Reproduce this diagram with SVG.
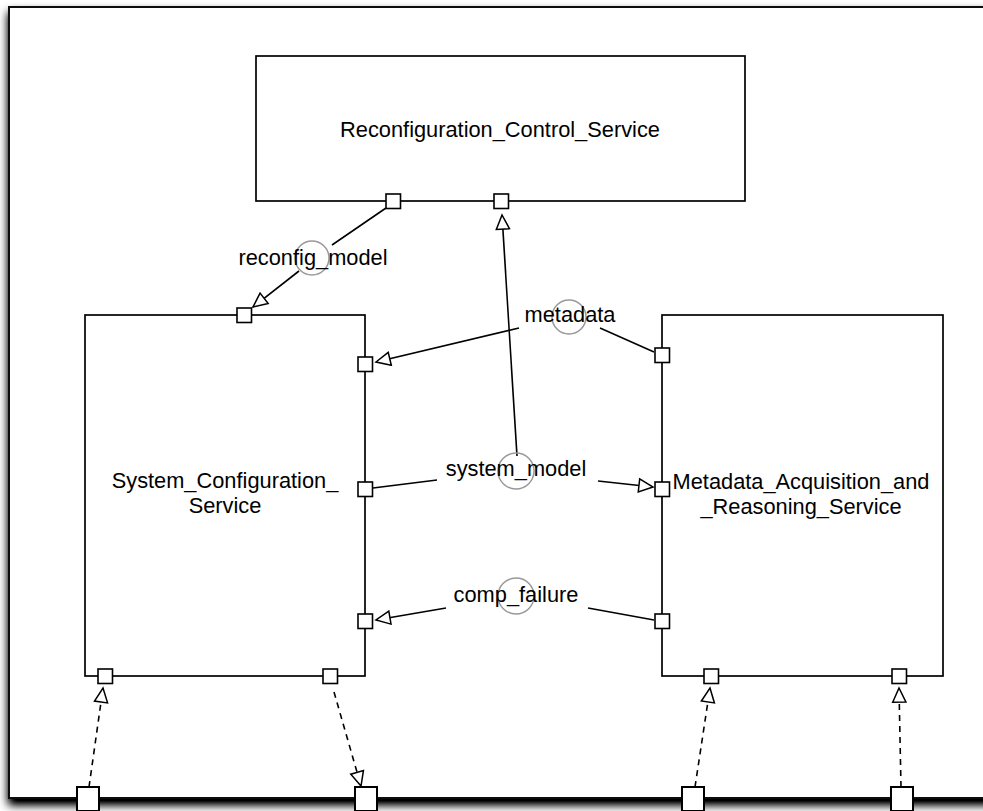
<svg xmlns="http://www.w3.org/2000/svg" width="983" height="811" viewBox="0 0 983 811">
  <defs>
    <filter id="frameShadow" x="-5%" y="-5%" width="110%" height="110%">
      <feGaussianBlur in="SourceAlpha" stdDeviation="5"/>
      <feOffset dx="0" dy="6" result="blur"/>
      <feComponentTransfer><feFuncA type="linear" slope="1.2"/></feComponentTransfer>
      <feMerge><feMergeNode/><feMergeNode in="SourceGraphic"/></feMerge>
    </filter>
    <marker id="openTri" markerUnits="userSpaceOnUse" markerWidth="18" markerHeight="16" refX="15" refY="7" orient="auto" viewBox="-1.5 -1.5 18 17">
      <path d="M0,0 L15,7 L0,14 Z" fill="#fff" stroke="#000" stroke-width="1.6" stroke-linejoin="miter"/>
    </marker>
    <style>
      .box { fill: #fff; stroke: #000; stroke-width: 1.7; }
      .port { fill: #fff; stroke: #000; stroke-width: 1.6; }
      .fport { fill: #fff; stroke: #000; stroke-width: 2; }
      .label { font-family: "Liberation Sans", Arial, Helvetica, sans-serif; font-size: 21.8px; fill: #000; text-anchor: middle; }
      .wire { fill: none; stroke: #000; stroke-width: 1.6; }
      .dash { fill: none; stroke: #000; stroke-width: 1.6; stroke-dasharray: 6 5; }
      .lollipop { fill: none; stroke: #999; stroke-width: 1.5; }
    </style>
  </defs>

  <!-- enclosing frame -->
  <g id="frame">
    <rect x="9" y="7" width="1000" height="791" fill="#fff" stroke="#111" stroke-width="2" filter="url(#frameShadow)"/>
  </g>

  <!-- connectors -->
  <g id="connectors">
    <!-- reconfig_model -->
    <line class="wire" x1="386" y1="208" x2="332" y2="245"/>
    <line class="wire" x1="299" y1="271" x2="253" y2="307" marker-end="url(#openTri)"/>
    <circle class="lollipop" cx="312" cy="258" r="17"/>

    <!-- metadata -->
    <line class="wire" x1="654" y1="352" x2="600" y2="328"/>
    <line class="wire" x1="519" y1="328" x2="376" y2="362" marker-end="url(#openTri)"/>
    <circle class="lollipop" cx="569" cy="317" r="17"/>

    <!-- system_model -->
    <line class="wire" x1="373" y1="488" x2="437" y2="480"/>
    <line class="wire" x1="598" y1="481" x2="653" y2="487" marker-end="url(#openTri)"/>
    <line class="wire" x1="517" y1="456" x2="502" y2="215" marker-end="url(#openTri)"/>
    <circle class="lollipop" cx="516" cy="471" r="18"/>

    <!-- comp_failure -->
    <line class="wire" x1="654" y1="620" x2="588" y2="608"/>
    <line class="wire" x1="446" y1="608" x2="376" y2="620" marker-end="url(#openTri)"/>
    <circle class="lollipop" cx="516" cy="596" r="18"/>

    <!-- external delegations -->
    <line class="dash" x1="89" y1="787" x2="103" y2="688" marker-end="url(#openTri)"/>
    <line class="dash" x1="334" y1="692" x2="361" y2="786" marker-end="url(#openTri)"/>
    <line class="dash" x1="695" y1="787" x2="710" y2="688" marker-end="url(#openTri)"/>
    <line class="dash" x1="901" y1="787" x2="899" y2="688" marker-end="url(#openTri)"/>
  </g>

  <!-- connector labels -->
  <g id="connector-labels">
    <text class="label" x="313" y="265">reconfig_model</text>
    <text class="label" x="570" y="322">metadata</text>
    <text class="label" x="516" y="476">system_model</text>
    <text class="label" x="516" y="602">comp_failure</text>
  </g>

  <g id="reconfiguration-control-service">
    <rect class="box" x="256" y="56" width="489" height="145"/>
    <text class="label" x="500" y="137">Reconfiguration_Control_Service</text>
    <rect class="port" x="386" y="194" width="14.5" height="14.5"/>
    <rect class="port" x="494" y="194" width="14.5" height="14.5"/>
  </g>

  <g id="system-configuration-service">
    <rect class="box" x="85" y="315" width="280" height="361"/>
    <text class="label" x="225" y="488">System_Configuration_</text>
    <text class="label" x="225" y="513">Service</text>
    <rect class="port" x="237" y="308" width="14.5" height="14.5"/>
    <rect class="port" x="358" y="357" width="14.5" height="14.5"/>
    <rect class="port" x="358" y="482" width="14.5" height="14.5"/>
    <rect class="port" x="358" y="614" width="14.5" height="14.5"/>
    <rect class="port" x="98" y="669" width="14.5" height="14.5"/>
    <rect class="port" x="323" y="669" width="14.5" height="14.5"/>
  </g>

  <g id="metadata-acquisition-and-reasoning-service">
    <rect class="box" x="662" y="315" width="281" height="361"/>
    <text class="label" x="801" y="489">Metadata_Acquisition_and</text>
    <text class="label" x="801" y="514">_Reasoning_Service</text>
    <rect class="port" x="655" y="348" width="14.5" height="14.5"/>
    <rect class="port" x="655" y="482" width="14.5" height="14.5"/>
    <rect class="port" x="655" y="614" width="14.5" height="14.5"/>
    <rect class="port" x="704" y="669" width="14.5" height="14.5"/>
    <rect class="port" x="892" y="669" width="14.5" height="14.5"/>
  </g>

  <!-- boundary ports on the frame -->
  <g id="frame-ports">
    <rect class="fport" x="77" y="787" width="22" height="24"/>
    <rect class="fport" x="355" y="787" width="22" height="24"/>
    <rect class="fport" x="682" y="787" width="22" height="24"/>
    <rect class="fport" x="891" y="787" width="22" height="24"/>
  </g>
</svg>
